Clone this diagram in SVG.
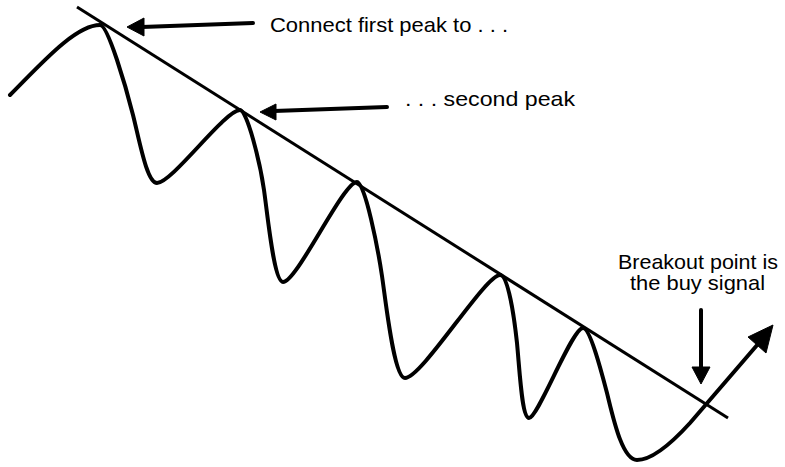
<svg xmlns="http://www.w3.org/2000/svg" width="785" height="467" viewBox="0 0 785 467">
<style>
.bg{fill:#ffffff}
.curve{fill:none;stroke:#000;stroke-width:4;stroke-linejoin:round;stroke-linecap:round}
.trend{fill:none;stroke:#000;stroke-width:3;stroke-linecap:butt}
.shaft{fill:none;stroke:#000;stroke-width:4;stroke-linecap:round}
.head{fill:#000;stroke:#000;stroke-width:1;stroke-linejoin:miter}
.lbl{font-family:"Liberation Sans",Arial,sans-serif;font-size:21px;fill:#000}
</style>
<rect class="bg" x="0" y="0" width="785" height="467"/>
<g id="price-curve">
<path class="curve" d="M10,95 C40,65 75,25 100,25 C108,25 126,87 133,115 C140,143 147,183 157,183 C172,183 225,110 240,110 C247,110 260,162 264,190 C268,218 274,282 283,282 C297,282 343,182 357,182 C365,182 378,249 382,276 C386,303 394,378 405,378 C422,378 485,275 500,275 C508,275 514,315 517,343 C520,375 522,418 529,418 C538,418 572,328 583,328 C590,328 601,370 607,393 C613,417 622,460 637,460 C652,460 670,445 690,423 L758,344"/>
<polygon class="head" points="773,325 748,337 766,353"/>
</g>
<g id="trendline">
<line class="trend" x1="77" y1="7" x2="728" y2="418"/>
</g>
<g id="connectors">
<line class="shaft" x1="253" y1="23" x2="142" y2="27"/>
<polygon class="head" points="127,27 144,18 144,36"/>
<line class="shaft" x1="387" y1="107" x2="274" y2="111"/>
<polygon class="head" points="260,112 276,104 276,120"/>
<line class="shaft" x1="701" y1="310" x2="701" y2="368"/>
<polygon class="head" points="692,367 710,367 701,384"/>
</g>
<g id="label-first-peak">
<text class="lbl" x="270" y="32" textLength="238" lengthAdjust="spacingAndGlyphs">Connect first peak to . . .</text>
</g>
<g id="label-second-peak">
<text class="lbl" x="405" y="106" textLength="170" lengthAdjust="spacingAndGlyphs">. . . second peak</text>
</g>
<g id="label-breakout">
<text class="lbl" x="618" y="269" textLength="160" lengthAdjust="spacingAndGlyphs">Breakout point is</text>
<text class="lbl" x="630" y="290" textLength="135" lengthAdjust="spacingAndGlyphs">the buy signal</text>
</g>
</svg>
